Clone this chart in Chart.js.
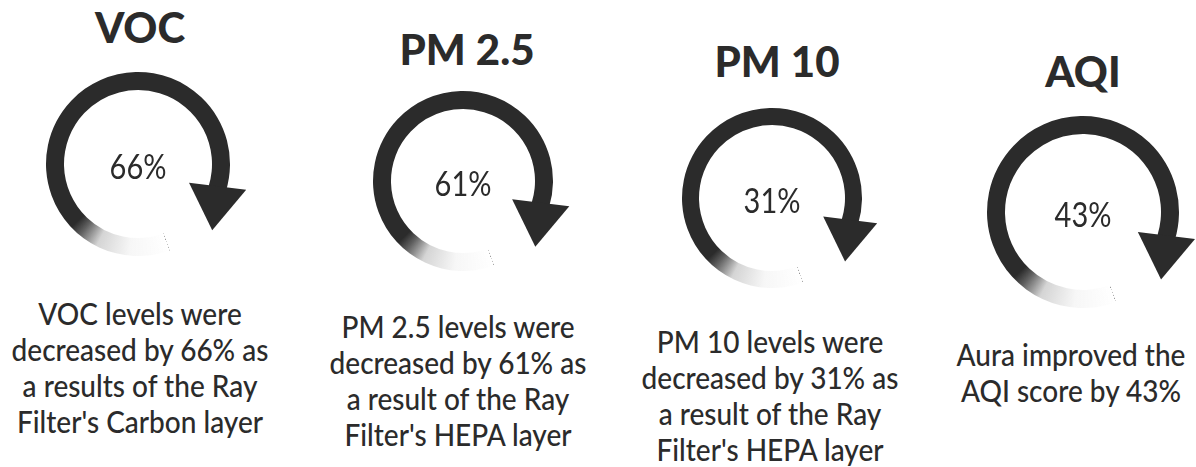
<!DOCTYPE html>
<html>
<head>
<meta charset="utf-8">
<script src="https://cdn.jsdelivr.net/npm/chart.js@4.4.1/dist/chart.umd.min.js"></script>
<style>
  html, body { margin: 0; padding: 0; background: #fff; }
  body { width: 1196px; height: 467px; position: relative; overflow: hidden;
         font-family: Lato, "Noto Sans", sans-serif; color: #2b2b2b; }
  .title { position: absolute; font-weight: 900; font-size: 42px; line-height: 50px;
           white-space: nowrap; transform: translateX(-50%); }
  .caption { position: absolute; font-weight: 500; font-size: 28px; line-height: 32px;
             text-align: center; white-space: nowrap;
             transform: translateX(-50%) scaleY(1.12); transform-origin: top center; }
  canvas { position: absolute; }
</style>
</head>
<body>
<script>
// data
const metrics = ["VOC", "PM 2.5", "PM 10", "AQI"];
const reductions = [66, 61, 31, 43];
const captions = [
  ["VOC levels were", "decreased by 66% as", "a results of the Ray", "Filter's Carbon layer"],
  ["PM 2.5 levels were", "decreased by 61% as", "a result of the Ray", "Filter's HEPA layer"],
  ["PM 10 levels were", "decreased by 31% as", "a result of the Ray", "Filter's HEPA layer"],
  ["Aura improved the", "AQI score by 43%"],
];

// where each block sits on the page
const layout = [
  { cx: 138, cy: 164, r: 92, ring: 18, titleX: 140, titleBase: 43, capX: 140, capBase: 325 },
  { cx: 463, cy: 181, r: 90, ring: 18, titleX: 467, titleBase: 65, capX: 458, capBase: 338 },
  { cx: 772, cy: 198, r: 90, ring: 17, titleX: 777, titleBase: 77, capX: 770, capBase: 353 },
  { cx: 1083, cy: 212, r: 96, ring: 18, titleX: 1083, titleBase: 87, capX: 1071, capBase: 366 },
];

const ink = "#2b2b2b";
const startDeg = 160;   // faded tail starts here (0 = top, clockwise)
const sweepDeg = 307;   // tail + solid arc, ends where the arrowhead sits
const pad = 36;

function tailGradient(context) {
  const chart = context.chart;
  const area = chart.chartArea;
  if (!area) return ink;
  const x = (area.left + area.right) / 2;
  const y = (area.top + area.bottom) / 2;
  const g = chart.ctx.createConicGradient((startDeg - 90) * Math.PI / 180, x, y);
  g.addColorStop(0, "rgba(43,43,43,0)");
  g.addColorStop(0.07, "rgba(43,43,43,0.04)");
  g.addColorStop(0.13, "rgba(43,43,43,0.2)");
  g.addColorStop(0.165, "rgba(43,43,43,0.75)");
  g.addColorStop(0.185, ink);
  g.addColorStop(1, ink);
  return g;
}

const arrowPlugin = {
  id: "arrowHead",
  afterDatasetsDraw(chart) {
    const arc = chart.getDatasetMeta(0).data[0];
    const { x, y, endAngle, innerRadius, outerRadius } =
      arc.getProps(["x", "y", "endAngle", "innerRadius", "outerRadius"], true);
    const ring = outerRadius - innerRadius;
    const mid = (outerRadius + innerRadius) / 2;
    const bx = x + mid * Math.cos(endAngle);
    const by = y + mid * Math.sin(endAngle);
    const oa = endAngle - 10 * Math.PI / 180;
    const nx = Math.cos(oa), ny = Math.sin(oa);
    const tx = -Math.sin(oa), ty = Math.cos(oa);
    const half = ring * 1.6, len = ring * 2.35;
    const ctx = chart.ctx;
    ctx.save();
    ctx.fillStyle = ink;
    ctx.beginPath();
    ctx.moveTo(bx - nx * half - tx * 2, by - ny * half - ty * 2);
    ctx.lineTo(bx + nx * half - tx * 2, by + ny * half - ty * 2);
    ctx.lineTo(bx + tx * len, by + ty * len);
    ctx.closePath();
    ctx.fill();
    ctx.restore();
  },
  afterDraw(chart) {
    const arc = chart.getDatasetMeta(0).data[0];
    const value = chart.data.datasets[0].data[0];
    const ctx = chart.ctx;
    ctx.save();
    ctx.fillStyle = ink;
    ctx.font = "400 29px Lato";
    ctx.textAlign = "center";
    ctx.textBaseline = "middle";
    ctx.translate(arc.x, arc.y + 4);
    ctx.scale(1, 1.18);
    ctx.fillText(value + "%", 0, 0);
    ctx.restore();
  }
};

metrics.forEach((name, i) => {
  const L = layout[i];

  const title = document.createElement("div");
  title.className = "title";
  title.textContent = name;
  title.style.left = L.titleX + "px";
  title.style.top = (L.titleBase - 41) + "px";
  document.body.appendChild(title);

  const cap = document.createElement("div");
  cap.className = "caption";
  cap.innerHTML = captions[i].join("<br>");
  cap.style.left = L.capX + "px";
  cap.style.top = (L.capBase - 30) + "px";
  document.body.appendChild(cap);

  const size = 2 * (L.r + pad);
  const canvas = document.createElement("canvas");
  canvas.width = size;
  canvas.height = size;
  canvas.style.left = (L.cx - L.r - pad) + "px";
  canvas.style.top = (L.cy - L.r - pad) + "px";
  document.body.appendChild(canvas);

  new Chart(canvas, {
    type: "doughnut",
    data: {
      labels: [name],
      datasets: [{
        data: [reductions[i]],
        backgroundColor: tailGradient,
        borderWidth: 0,
        hoverBorderWidth: 0,
        hoverOffset: 0
      }]
    },
    options: {
      responsive: false,
      animation: false,
      events: [],
      rotation: startDeg,
      circumference: sweepDeg,
      cutout: L.r - L.ring,
      layout: { padding: pad },
      plugins: { legend: { display: false }, tooltip: { enabled: false } }
    },
    plugins: [arrowPlugin]
  });
});
</script>
</body>
</html>
